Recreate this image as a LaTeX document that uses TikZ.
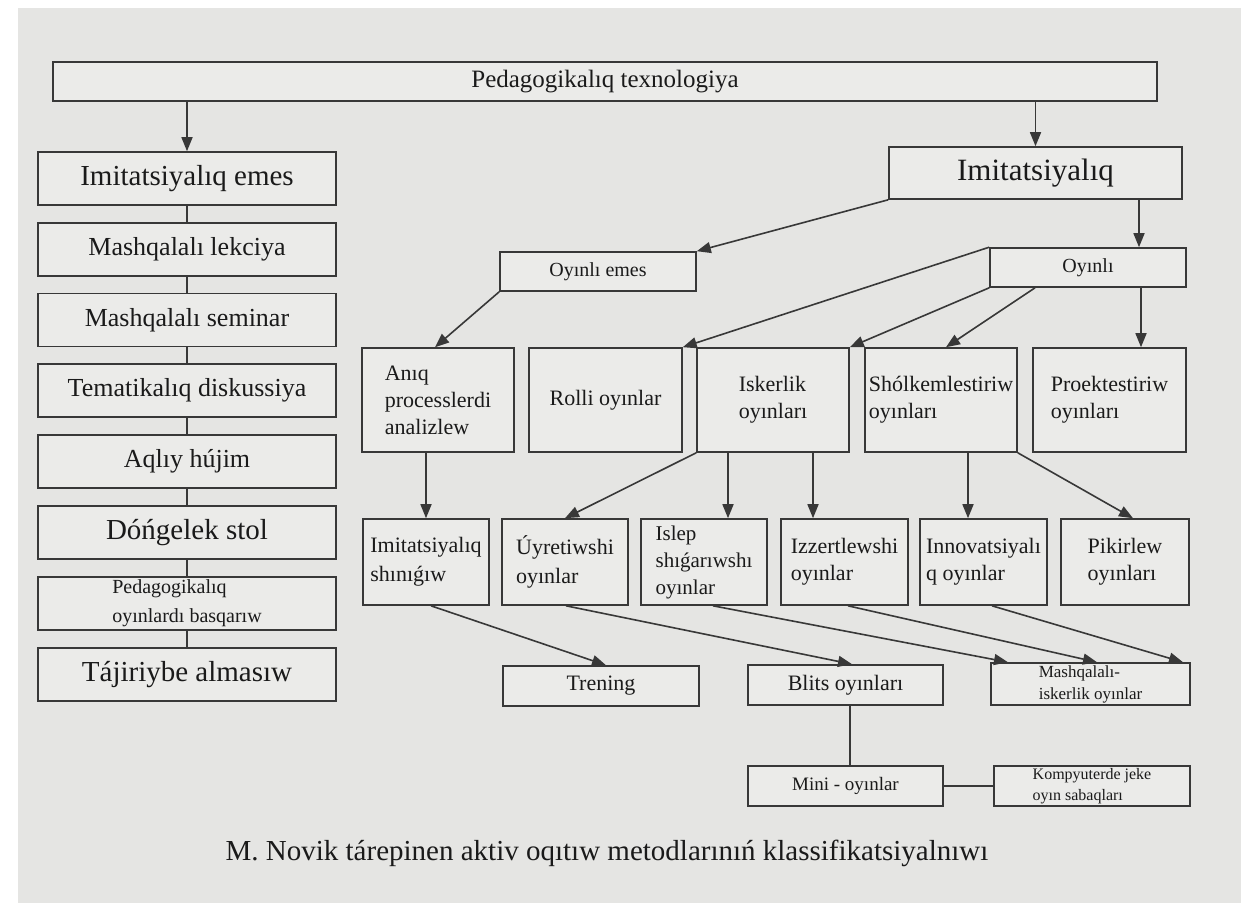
\documentclass[tikz,border=0pt]{standalone}
\usepackage{fontspec}
\setmainfont{Liberation Serif}
\usetikzlibrary{arrows.meta}
\definecolor{paper}{HTML}{E5E5E3}
\definecolor{boxfill}{HTML}{EBEBE9}
\definecolor{ink}{HTML}{383838}
\definecolor{txt}{HTML}{1A1A1A}
\newcommand{\myfs}[2]{\fontsize{#1}{#2}\selectfont}
\tikzset{
  box/.style={draw=ink, line width=1.6pt, fill=boxfill, inner sep=0pt, text=txt, align=center},
  lbox/.style={box, align=left},
  arr/.style={draw=ink, line width=1.6pt, -{Triangle[length=14pt,width=11pt]}},
  ln/.style={draw=ink, line width=1.6pt},
}
\begin{document}
\begin{tikzpicture}[x=1pt,y=-1pt]
\useasboundingbox (0,0) rectangle (1241,903);
\fill[white] (0,0) rectangle (1241,903);
\fill[paper] (18,8) rectangle (1241,903);

% top bar
\node[box, minimum width=1104, minimum height=39, font=\myfs{25}{30}] (top) at (605,81.5) {Pedagogikalıq texnologiya};

% left column
\node[box, minimum width=298, minimum height=53, font=\myfs{29}{34}] (l1) at (187,178.5) {Imitatsiyalıq emes};
\node[box, minimum width=298, minimum height=53, font=\myfs{26}{30}] (l2) at (187,249.2) {Mashqalalı lekciya};
\node[box, minimum width=298, minimum height=53, font=\myfs{26}{30}] (l3) at (187,320) {Mashqalalı seminar};
\node[box, minimum width=298, minimum height=53, font=\myfs{26}{30}] (l4) at (187,390.5) {Tematikalıq diskussiya};
\node[box, minimum width=298, minimum height=53, font=\myfs{26}{30}] (l5) at (187,461.5) {Aqlıy hújim};
\node[box, minimum width=298, minimum height=53, font=\myfs{29}{34}] (l6) at (187,532.5) {Dóńgelek stol};
\node[lbox, minimum width=298, minimum height=53, font=\myfs{20}{29}] (l7) at (187,603.5) {Pedagogikalıq\\oyınlardı basqarıw};
\node[box, minimum width=298, minimum height=53, font=\myfs{29}{34}] (l8) at (187,674.5) {Tájiriybe almasıw};

% right side
\node[box, minimum width=293, minimum height=52, font=\myfs{31}{36}] (imit) at (1035.5,173) {Imitatsiyalıq};
\node[box, minimum width=196, minimum height=39, font=\myfs{20}{24}] (oe) at (598,271.5) {Oyınlı emes};
\node[box, minimum width=196, minimum height=39, font=\myfs{20}{24}] (oy) at (1088,267.5) {Oyınlı};

% row 2
\node[lbox, minimum width=152, minimum height=104, font=\myfs{22}{27}] (anq) at (438,400) {Anıq\\processlerdi\\analizlew};
\node[box, minimum width=153, minimum height=104, font=\myfs{22}{27}] (rol) at (605.5,400) {Rolli oyınlar};
\node[lbox, minimum width=152, minimum height=104, font=\myfs{22}{27}] (isk) at (773,400) {Iskerlik\\oyınları};
\node[lbox, minimum width=152, minimum height=104, font=\myfs{22}{27}] (shk) at (941,400) {Shólkemlestiriw\\oyınları};
\node[lbox, minimum width=153, minimum height=104, font=\myfs{22}{27}] (prk) at (1109.5,400) {Proektestiriw\\oyınları};

% row 3
\node[lbox, minimum width=126, minimum height=86, font=\myfs{22}{29}] (ims) at (426,562) {Imitatsiyalıq\\shınıǵıw};
\node[lbox, minimum width=126, minimum height=86, font=\myfs{22}{29}] (uyr) at (565,562) {Úyretiwshi\\oyınlar};
\node[lbox, minimum width=126, minimum height=86, font=\myfs{21}{27}] (isl) at (704,562) {Islep\\shıǵarıwshı\\oyınlar};
\node[lbox, minimum width=127, minimum height=86, font=\myfs{22}{27}] (izz) at (844.5,562) {Izzertlewshi\\oyınlar};
\node[lbox, minimum width=127, minimum height=86, font=\myfs{22}{27}] (inn) at (983.5,562) {Innovatsiyalı\\q oyınlar};
\node[lbox, minimum width=128, minimum height=86, font=\myfs{22}{27}] (pik) at (1125,562) {Pikirlew\\oyınları};

% row 4
\node[box, minimum width=196, minimum height=40, font=\myfs{22}{26}] (trn) at (601,686) {Trening};
\node[box, minimum width=195, minimum height=40, font=\myfs{22}{26}] (blt) at (845.5,685) {Blits oyınları};
\node[lbox, minimum width=199, minimum height=42, font=\myfs{17}{22}] (msh) at (1090.5,684) {Mashqalalı-\\iskerlik oyınlar};

% row 5
\node[box, minimum width=195, minimum height=40, font=\myfs{19}{23}] (mini) at (845.5,786) {Mini - oyınlar};
\node[lbox, minimum width=196, minimum height=40, font=\myfs{16}{21}] (kmp) at (1092,786) {Kompyuterde jeke\\oyın sabaqları};

% caption
\node[text=txt, inner sep=0pt, font=\myfs{29}{34}] (cap) at (607,853) {M. Novik tárepinen aktiv oqıtıw metodlarınıń klassifikatsiyalnıwı};

% connectors
\draw[arr] (top.south -| l1.north) -- (l1.north);
\draw[arr] (top.south -| imit.north) -- (imit.north);
\draw[ln] (l1.south) -- (l2.north);
\draw[ln] (l2.south) -- (l3.north);
\draw[ln] (l3.south) -- (l4.north);
\draw[ln] (l4.south) -- (l5.north);
\draw[ln] (l5.south) -- (l6.north);
\draw[ln] (l6.south) -- (l7.north);
\draw[ln] (l7.south) -- (l8.north);

\draw[arr] (imit.south west) -- (oe.north east);
\draw[arr] (1139,0 |- imit.south) -- (1139,0 |- oy.north);
\draw[arr] (oe.south west) -- (435,0 |- anq.north);
\draw[arr] (oy.north west) -- (rol.north east);
\draw[arr] (oy.south west) -- (isk.north east);
\draw[arr] (1035,0 |- oy.south) -- (946,0 |- shk.north);
\draw[arr] (1141,0 |- oy.south) -- (1141,0 |- prk.north);

\draw[arr] (ims.north |- anq.south) -- (ims.north);
\draw[arr] (isk.south west) -- (uyr.north);
\draw[arr] (728,0 |- isk.south) -- (728,0 |- isl.north);
\draw[arr] (813,0 |- isk.south) -- (813,0 |- izz.north);
\draw[arr] (968,0 |- shk.south) -- (968,0 |- inn.north);
\draw[arr] (shk.south east) -- (1133,0 |- pik.north);

\draw[arr] (431,0 |- ims.south) -- (606,0 |- trn.north);
\draw[arr] (566,0 |- uyr.south) -- (852,0 |- blt.north);
\draw[arr] (713,0 |- isl.south) -- (1008,0 |- msh.north);
\draw[arr] (848,0 |- izz.south) -- (1097,0 |- msh.north);
\draw[arr] (992,0 |- inn.south) -- (1183,0 |- msh.north);

\draw[ln] (850,0 |- blt.south) -- (850,0 |- mini.north);
\draw[ln] (mini.east) -- (mini.east -| kmp.west);
\end{tikzpicture}
\end{document}
